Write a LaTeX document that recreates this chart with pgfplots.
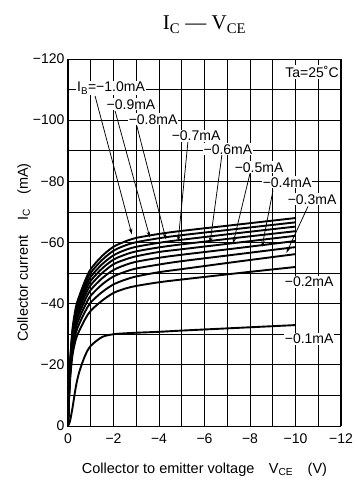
\documentclass[border=0pt]{standalone}
\usepackage{fontspec}
\setmainfont{Liberation Sans}
\newfontfamily\seriffont{Liberation Serif}
\usepackage{pgfplots}
\usepackage{pgfplotstable}
\pgfplotsset{compat=1.18}
\usetikzlibrary{arrows.meta}
\tikzset{
  lab/.style={fill=white, inner sep=1pt, font=\fontsize{14}{16}\selectfont},
  arr/.style={-{Stealth[length=6pt,width=3.5pt]}, line width=0.75pt, black},
  curve/.style={black, solid, mark=none, line width=1.9pt, smooth, tension=0.5},
}

\pgfplotstableread{
V      b10    b09    b08    b07    b06    b05    b04    b03    b02    b01
0      0      0      0      0      0      0      0      0      0      0
-0.05  -12.9  -12.6  -12.3  -12.0  -11.6  -11.2  -10.7  -10.1  -9.5   -0.8
-0.1   -21.8  -21.2  -20.7  -20.1  -19.5  -18.8  -18.0  -17.1  -15.9  -2.0
-0.2   -31.8  -31.1  -30.2  -29.4  -28.6  -27.5  -26.4  -24.9  -23.3  -6.0
-0.35  -39.0  -38.0  -37.1  -36.1  -35.0  -33.8  -32.3  -30.6  -28.5  -13.0
-0.5   -42.6  -41.6  -40.5  -39.4  -38.3  -36.9  -35.3  -33.5  -31.2  -17.8
-0.75  -47.5  -46.4  -45.2  -44.0  -42.7  -41.2  -39.4  -37.4  -34.9  -23.0
-1     -51.3  -50.1  -48.8  -47.5  -46.1  -44.5  -42.6  -40.4  -37.7  -26.2
-1.5   -55.6  -54.3  -52.9  -51.5  -50.0  -48.3  -46.3  -43.8  -41.0  -29.1
-2     -58.6  -57.3  -55.8  -54.4  -52.9  -51.0  -48.9  -46.3  -43.5  -30.0
-2.5   -60.3  -59.0  -57.5  -56.0  -54.4  -52.6  -50.4  -47.8  -44.9  -30.3
-3     -61.5  -60.1  -58.6  -57.1  -55.5  -53.7  -51.5  -48.9  -45.8  -30.5
-4     -62.8  -61.4  -59.9  -58.4  -56.9  -55.0  -52.8  -50.3  -47.0  -30.8
-5     -63.8  -62.4  -60.9  -59.4  -57.8  -56.0  -53.9  -51.3  -47.9  -31.2
-7.5   -65.9  -64.5  -63.1  -61.6  -60.0  -58.2  -56.2  -53.8  -50.0  -32.1
-10    -68.0  -66.6  -65.2  -63.7  -62.2  -60.5  -58.5  -56.2  -52.0  -33.0
}\curves

\begin{document}
\begin{tikzpicture}
\begin{axis}[
  scale only axis, width=273pt, height=367pt,
  x dir=reverse, y dir=reverse,
  xmin=-12, xmax=0, ymin=-120, ymax=0,
  xtick={0,-2,-4,-6,-8,-10,-12},
  ytick={0,-20,-40,-60,-80,-100,-120},
  xticklabels={0,−2,−4,−6,−8,−10,−12},
  yticklabels={0,−20,−40,−60,−80,−100,−120},
  minor xtick={-1,-3,-5,-7,-9,-11},
  minor ytick={-10,-30,-50,-70,-90,-110},
  grid=both,
  major grid style={black, line width=0.7pt},
  minor grid style={black, line width=0.7pt},
  axis line style={black, line width=1pt},
  major tick length=0pt, minor tick length=0pt,
  ticklabel style={font=\fontsize{14}{16}\selectfont},
  xticklabel style={yshift=-4pt},
]
\addplot[curve] table[x=V,y=b10] {\curves};
\addplot[curve] table[x=V,y=b09] {\curves};
\addplot[curve] table[x=V,y=b08] {\curves};
\addplot[curve] table[x=V,y=b07] {\curves};
\addplot[curve] table[x=V,y=b06] {\curves};
\addplot[curve] table[x=V,y=b05] {\curves};
\addplot[curve] table[x=V,y=b04] {\curves};
\addplot[curve] table[x=V,y=b03] {\curves};
\addplot[curve] table[x=V,y=b02] {\curves};
\addplot[curve] table[x=V,y=b01] {\curves};

\draw[arr] (axis cs:-1.19,-107.9) -- (axis cs:-2.81,-62.6);
\draw[arr] (axis cs:-2.07,-103.0) -- (axis cs:-3.60,-61.6);
\draw[arr] (axis cs:-3.03,-98.0) -- (axis cs:-4.31,-61.0);
\draw[arr] (axis cs:-5.27,-92.8) -- (axis cs:-4.84,-60.3);
\draw[arr] (axis cs:-6.77,-88.9) -- (axis cs:-6.24,-59.7);
\draw[arr] (axis cs:-8.00,-82.6) -- (axis cs:-7.25,-59.5);
\draw[arr] (axis cs:-9.01,-77.0) -- (axis cs:-8.53,-58.6);
\draw[arr] (axis cs:-10.55,-71.8) -- (axis cs:-9.60,-56.6);

\node[lab] at (axis cs:-1.89,-110.5) {I\textsubscript{B}=−1.0mA};
\node[lab] at (axis cs:-2.77,-105.2) {−0.9mA};
\node[lab] at (axis cs:-3.74,-100.3) {−0.8mA};
\node[lab] at (axis cs:-5.63,-94.8) {−0.7mA};
\node[lab] at (axis cs:-7.03,-90.5) {−0.6mA};
\node[lab] at (axis cs:-8.40,-84.6) {−0.5mA};
\node[lab] at (axis cs:-9.63,-79.7) {−0.4mA};
\node[lab] at (axis cs:-10.73,-74.1) {−0.3mA};
\node[lab] at (axis cs:-10.6,-47.2) {−0.2mA};
\node[lab] at (axis cs:-10.6,-28.5) {−0.1mA};
\node[lab] at (axis cs:-10.73,-115.7) {Ta=25˚C};
\end{axis}
\node[anchor=base, font=\fontsize{21}{24}\selectfont\seriffont] at ([yshift=29pt]current axis.north) {I\textsubscript{C} — V\textsubscript{CE}};
\node[anchor=base, font=\fontsize{14.5}{17}\selectfont] at ([yshift=-47pt]current axis.south) {Collector to emitter voltage\quad V\textsubscript{CE}\quad (V)};
\node[rotate=90, anchor=center, font=\fontsize{14.5}{17}\selectfont] at ([xshift=-44pt,yshift=-10pt]current axis.west) {Collector current\quad I\textsubscript{C}\quad (mA)};
\pgfresetboundingbox
\path ([xshift=-68pt,yshift=-56pt]current axis.south west) rectangle ([xshift=16pt,yshift=59pt]current axis.north east);
\end{tikzpicture}
\end{document}
